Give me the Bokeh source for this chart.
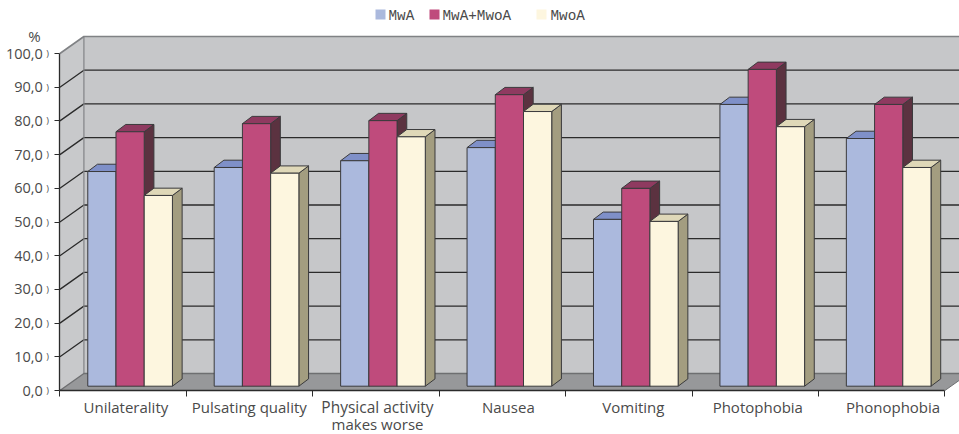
from bokeh.embed import file_html
from bokeh.resources import INLINE
from bokeh.plotting import figure
from bokeh.models import LinearAxis, FixedTicker, Range1d
from bokeh.core.properties import value

categories = ["Unilaterality", "Pulsating quality", "Physical activity\nmakes worse",
              "Nausea", "Vomiting", "Photophobia", "Phonophobia"]
series_names = ["MwA", "MwA+MwoA", "MwoA"]
mwa = [63.7, 64.9, 66.9, 70.8, 49.5, 83.6, 73.5]
mwa_mwoa = [75.5, 77.9, 78.8, 86.5, 58.7, 94.0, 83.6]
mwoa = [56.6, 63.2, 74.0, 81.5, 48.9, 77.0, 64.9]
y_ticks = [0, 10, 20, 30, 40, 50, 60, 70, 80, 90, 100]

front_colors = ["#ABB9DD", "#BF4B7C", "#FDF6DF"]
top_colors = ["#7F90C8", "#8F3A60", "#DFD8B8"]
side_colors = ["#5A6890", "#5B3240", "#A39D80"]

W, H = 959, 434
X0, Y0 = 59.4, 390.0          # pixel of the axes origin
UX, UY = 126.43, 3.37         # pixels per category, pixels per percent
WALL_DX, WALL_DY = 24 / UX, 17 / UY
BAR_DX, BAR_DY = 9.7 / UX, 7.3 / UY
INSET_DX, INSET_DY = 6 / UX, 4.3 / UY
GAP, BAR_W = 0.173, 0.2232
INK = "#2B2B2B"
BAR_EDGE = "#3A3A3C"
TEXT = "#4A4A4A"
FONT = value("Open Sans")


def px(x):
    return (x - X0) / UX


def py(y):
    return (Y0 - y) / UY


p = figure(width=W, height=H, output_backend="svg", toolbar_location=None,
           x_axis_type=None, y_axis_type=None,
           x_range=Range1d(px(0), px(W)), y_range=Range1d(py(H), py(0)),
           min_border=0, outline_line_color=None)
p.grid.visible = False
p.background_fill_color = "white"
p.border_fill_color = "white"

n = len(categories)
top = y_ticks[-1]

# Walls and floor of the 3D box
p.patch([WALL_DX, n + WALL_DX, n + WALL_DX, WALL_DX],
        [WALL_DY, WALL_DY, top + WALL_DY, top + WALL_DY],
        fill_color="#C6C7C9", line_color=None)
p.patch([0, WALL_DX, WALL_DX, 0], [0, WALL_DY, top + WALL_DY, top],
        fill_color="#C8C9CB", line_color=None)
p.patch([0, n, n + WALL_DX, WALL_DX], [0, 0, WALL_DY, WALL_DY],
        fill_color="#97989A", line_color=None)

# Gridlines running along the side wall and the back wall
for t in y_ticks[1:-1]:
    p.line([0, WALL_DX, n + WALL_DX], [t, t + WALL_DY, t + WALL_DY],
           line_color=INK, line_width=1.3)
p.line([0, WALL_DX, n + WALL_DX], [top, top + WALL_DY, top + WALL_DY],
       line_color="#808285", line_width=1.6)
p.line([WALL_DX, WALL_DX], [WALL_DY, top + WALL_DY], line_color="#808285", line_width=1.2)
p.line([0, WALL_DX, n + WALL_DX], [0, WALL_DY, WALL_DY], line_color="#6E6F71", line_width=1.4)
p.line([n, n + WALL_DX], [0, WALL_DY], line_color="#6E6F71", line_width=1)

# Bars, painted left to right so that each front hides its neighbour's side
for i in range(n):
    for j, vals in enumerate([mwa, mwa_mwoa, mwoa]):
        v = vals[i]
        x1 = i + GAP + INSET_DX + j * BAR_W
        x2 = x1 + BAR_W
        b = INSET_DY
        t = INSET_DY + v
        style = dict(line_color=BAR_EDGE, line_width=1.0, line_join="miter")
        p.patch([x2, x2 + BAR_DX, x2 + BAR_DX, x2], [b, b + BAR_DY, t + BAR_DY, t],
                fill_color=side_colors[j], **style)
        p.patch([x1, x2, x2 + BAR_DX, x1 + BAR_DX], [t, t, t + BAR_DY, t + BAR_DY],
                fill_color=top_colors[j], **style)
        p.patch([x1, x2, x2, x1], [b, b, t, t], fill_color=front_colors[j], **style)

# Value axis
y_axis = LinearAxis(fixed_location=0, ticker=FixedTicker(ticks=y_ticks),
                    major_label_overrides={t: f"{t:.1f}".replace(".", ",") for t in y_ticks},
                    major_label_text_font="Open Sans", major_label_text_font_size="14.5px",
                    major_label_text_color=TEXT, major_label_standoff=12,
                    axis_line_color=INK, axis_line_width=1.3,
                    major_tick_line_color=INK, major_tick_in=0, major_tick_out=5,
                    minor_tick_line_color=None, bounds=(0, top))
p.add_layout(y_axis, "left")

p.text([px(47)] * len(y_ticks), y_ticks, text=[")"] * len(y_ticks), text_font=FONT,
       text_font_size="9px", text_color=TEXT, text_align="center", text_baseline="middle")
p.text([px(34)], [py(35)], text=["%"], text_font=FONT, text_font_size="15px",
       text_color=TEXT, text_align="center", text_baseline="middle")

# Category axis: ticks mark the boundaries, names are set separately below
boundaries = list(range(n + 1))
x_axis = LinearAxis(fixed_location=0, ticker=FixedTicker(ticks=boundaries),
                    major_label_overrides={b: "" for b in boundaries},
                    axis_line_color=INK, axis_line_width=1.3,
                    major_tick_line_color=INK, major_tick_in=0, major_tick_out=6,
                    minor_tick_line_color=None, bounds=(0, n))
p.add_layout(x_axis, "below")

label_shift = [0.022, -0.002, 0.012, 0.047, 0.036, 0.02, 0.09]
label_size = ["15px", "15px", "15.5px", "15px", "15px", "15px", "15px"]
for i, name in enumerate(categories):
    for k, line in enumerate(name.split("\n")):
        p.text([i + 0.5 + label_shift[i]], [py(406.5 + 17 * k)], text=[line], text_font=FONT,
               text_font_size="15px" if k else label_size[i], text_color=TEXT,
               text_align="center", text_baseline="middle")

# Legend
swatch_left = [375, 429, 536]
legend_text_left = [388, 442, 550]
for j, name in enumerate(series_names):
    p.quad(left=[px(swatch_left[j])], right=[px(swatch_left[j] + 10)],
           top=[py(9)], bottom=[py(19)], fill_color=front_colors[j], line_color=None)
    p.text([px(legend_text_left[j])], [py(15)], text=[name], text_font=value("Liberation Mono"),
           text_font_size="14.3px", text_color=TEXT, text_align="left", text_baseline="middle")

open("out.html", "w").write(file_html(p, INLINE))
